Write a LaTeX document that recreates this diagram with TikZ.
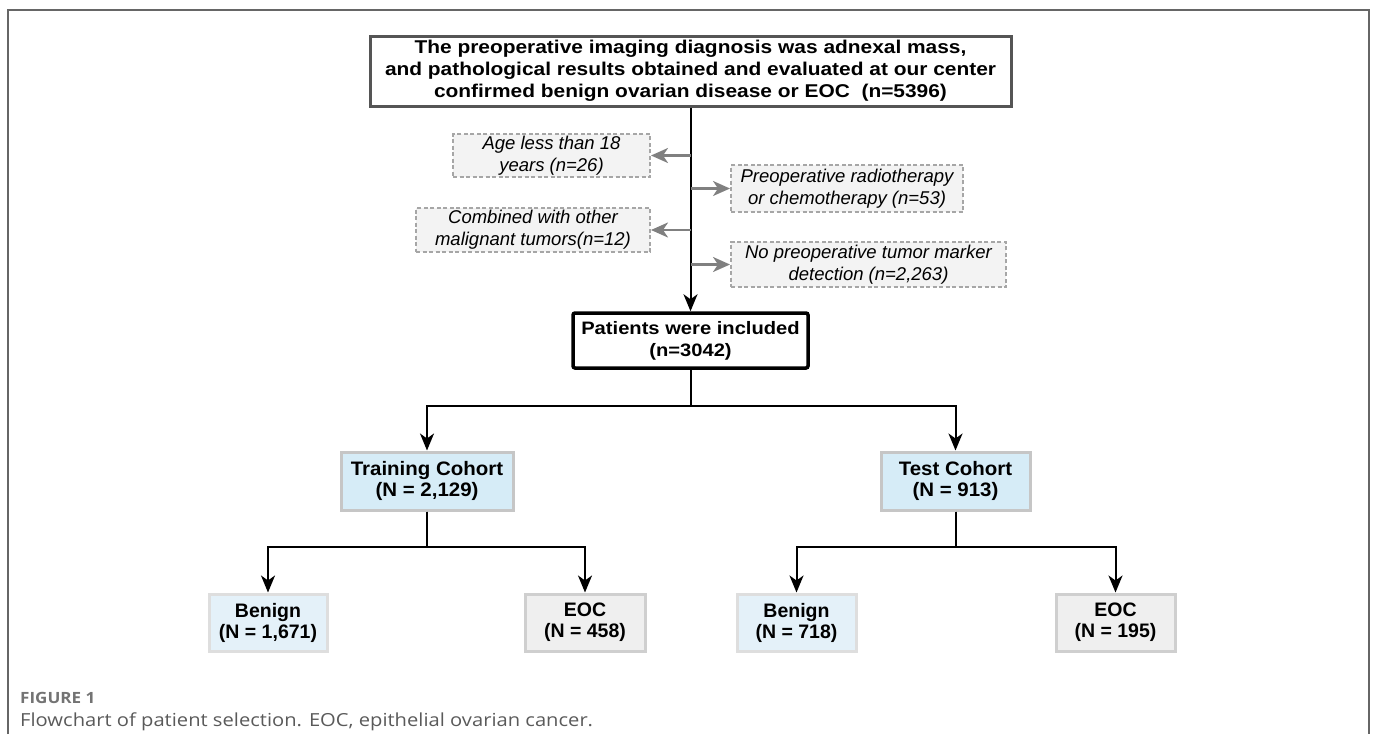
\documentclass[tikz,border=0pt]{standalone}
\usepackage{fontspec}
\setmainfont{Liberation Sans}
\newfontfamily\topfont{Liberation Sans}[FakeStretch=1.13]
\newfontfamily\inclfont{Liberation Sans}[FakeStretch=1.12]
\newfontfamily\cohortfont{Liberation Sans}[FakeStretch=1.05]
\newfontfamily\capfont{Open Sans}[FakeStretch=1.12]
\newfontfamily\figfont{Open Sans}[FakeStretch=1.1]
\usetikzlibrary{arrows.meta,positioning}
\definecolor{framegray}{HTML}{666666}
\definecolor{topgray}{HTML}{555555}
\definecolor{exclfill}{HTML}{F3F3F3}
\definecolor{excldraw}{HTML}{A6A6A6}
\definecolor{exclarrow}{HTML}{808080}
\definecolor{cohortfill}{HTML}{D6ECF7}
\definecolor{cohortdraw}{HTML}{C6C6C6}
\definecolor{benignfill}{HTML}{E4F1F9}
\definecolor{benigndraw}{HTML}{DEDEDE}
\definecolor{eocfill}{HTML}{EFEFEF}
\definecolor{eocdraw}{HTML}{CFCFCF}
\definecolor{captext}{HTML}{5A5A5A}
\begin{document}
\begin{tikzpicture}[x=1pt,y=-1pt,
  box/.style={inner sep=0pt,align=center,font=\fontsize{18}{22}\selectfont\bfseries},
  excl/.style={draw=excldraw,fill=exclfill,line width=2pt,dash pattern=on 4pt off 2.5pt,
    inner sep=0pt,align=center,font=\fontsize{18.5}{22}\selectfont\itshape},
  cohort/.style={box,draw=cohortdraw,fill=cohortfill,line width=3pt,minimum height=58pt,
    font=\cohortfont\fontsize{19.5}{21}\selectfont\bfseries},
  benign/.style={cohort,draw=benigndraw,fill=benignfill,minimum height=57pt,
    font=\fontsize{19.5}{21}\selectfont\bfseries},
  eoc/.style={benign,draw=eocdraw,fill=eocfill},
  flow/.style={line width=2pt,-{Stealth[length=17pt,width=14pt,inset=5pt]}},
  side/.style={exclarrow,line width=2.5pt,-{Stealth[length=17pt,width=15pt,inset=5pt]}}]
\useasboundingbox (0,0) rectangle (1375,734);
\draw[framegray,line width=1.5pt] (8,734) -- (8,10) -- (1369,10) -- (1369,734);

\node[box,draw=topgray,line width=3pt,minimum width=641pt,minimum height=70pt,
  font=\topfont\fontsize{18.5}{22}\selectfont\bfseries] (screen) at (690.5,71)
  {The preoperative imaging diagnosis was adnexal mass,\\
   and pathological results obtained and evaluated at our center\\
   confirmed benign ovarian disease or EOC~~(n=5396)};

\node[excl,minimum width=197pt,minimum height=43pt] (age) at (551.5,155.5) {Age less than 18\\years (n=26)};
\node[excl,minimum width=232pt,minimum height=47pt] (radio) at (847,188.5) {Preoperative radiotherapy\\or chemotherapy (n=53)};
\node[excl,minimum width=234pt,minimum height=44pt] (tumor) at (533,230) {Combined with other\\malignant tumors(n=12)};
\node[excl,minimum width=275pt,minimum height=45pt] (marker) at (868.5,264.5) {No preoperative tumor marker\\detection (n=2,263)};

\node[box,draw,line width=3.5pt,rounded corners=2pt,minimum width=235pt,minimum height=55pt,
  font=\inclfont\fontsize{18}{22}\selectfont\bfseries] (incl) at (690.5,340.5)
  {Patients were included\\(n=3042)};

\node[cohort,minimum width=172pt] (train) at (427,481) {Training Cohort\\(N = 2,129)};
\node[cohort,minimum width=149pt] (test) at (955.5,481) {Test Cohort\\(N = 913)};

\node[benign,minimum width=118pt] (trbenign) at (268,622.5) {Benign\\(N = 1,671)};
\node[eoc,minimum width=120pt] (treoc) at (585,622.5) {EOC\\(N = 458)};
\node[benign,minimum width=119pt] (tebenign) at (796.5,622.5) {Benign\\(N = 718)};
\node[eoc,minimum width=119pt] (teeoc) at (1115.5,622.5) {EOC\\(N = 195)};

\draw[flow] (screen) -- (incl);
\draw[side] (screen.south |- age.east) -- (age.east);
\draw[side] (screen.south |- radio.west) -- (radio.west);
\draw[side] (screen.south |- tumor.east) -- (tumor.east);
\draw[side] (screen.south |- marker.west) -- (marker.west);

\draw[flow] (incl.south) -- ++(0,36) -| (train);
\draw[flow] (incl.south) -- ++(0,36) -| (test);
\draw[flow] (train.south) -- ++(0,35) -| (trbenign);
\draw[flow] (train.south) -- ++(0,35) -| (treoc);
\draw[flow] (test.south) -- ++(0,35) -| (tebenign);
\draw[flow] (test.south) -- ++(0,35) -| (teeoc);

\node[anchor=base west,inner sep=0pt,text=captext!85,font=\figfont\fontsize{15.5}{17}\selectfont\bfseries] (figlabel) at (20,703) {FIGURE 1};
\node[anchor=base west,inner sep=0pt,text=captext,font=\capfont\fontsize{18}{20}\selectfont] (figtext) at (20,726)
  {Flowchart of patient selection. EOC, epithelial ovarian cancer.};
\end{tikzpicture}
\end{document}
